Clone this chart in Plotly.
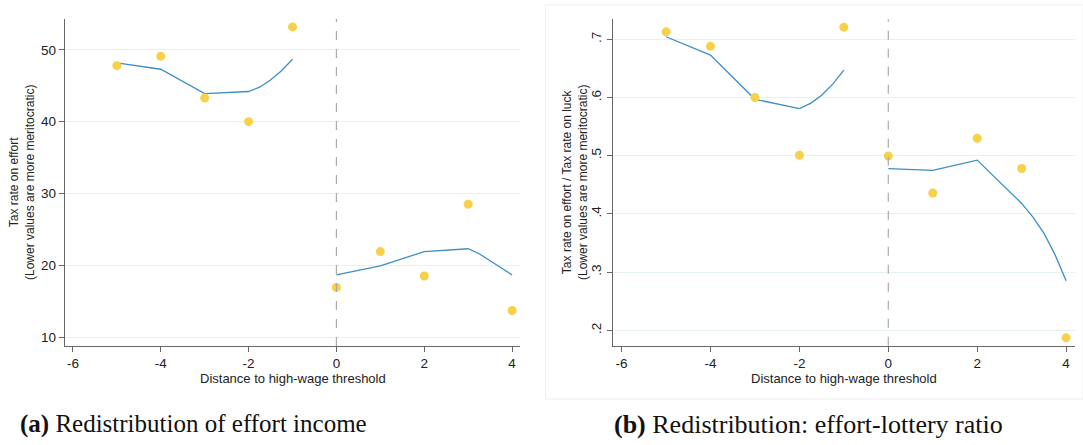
import plotly.graph_objects as go

W, H = 1083, 445

# ---- data ----
x_pts = [-5, -4, -3, -2, -1, 0, 1, 2, 3, 4]
effort_pts = [47.8, 49.1, 43.3, 40.0, 53.2, 16.9, 21.9, 18.5, 28.5, 13.7]
ratio_pts = [0.713, 0.688, 0.600, 0.501, 0.721, 0.4995, 0.436, 0.530, 0.478, 0.187]

fit_x_left = [-5, -4, -3, -2, -1.75, -1.5, -1.25, -1]
fit_x_right = [0, 1, 2, 3, 3.25, 3.5, 3.75, 4]
effort_fit_left = [48.2, 47.3, 43.9, 44.2, 44.8, 45.8, 47.1, 48.7]
effort_fit_right = [18.65, 19.9, 21.9, 22.3, 21.6, 20.6, 19.6, 18.65]
ratio_fit_left = [0.7045, 0.673, 0.597, 0.581, 0.590, 0.604, 0.623, 0.647]
ratio_fit_right = [0.478, 0.475, 0.4925, 0.418, 0.395, 0.367, 0.330, 0.285]

x_ticks = [-6, -4, -2, 0, 2, 4]
x_ticklabels = ["-6", "-4", "-2", "0", "2", "4"]
effort_ticks = [10, 20, 30, 40, 50]
ratio_ticks = [0.2, 0.3, 0.4, 0.5, 0.6, 0.7]
ratio_ticklabels = [".2", ".3", ".4", ".5", ".6", ".7"]

caption_a = "<b>(a)</b> Redistribution of effort income"
caption_b = "<b>(b)</b> Redistribution: effort-lottery ratio"
xtitle = "Distance to high-wage threshold"
ytitle_a = "Tax rate on effort<br>(Lower values are more meritocratic)"
ytitle_b = "Tax rate on effort / Tax rate on luck<br>(Lower values are more meritocratic)"

DOT = "#F8D14A"
LINE = "#3D8EC3"
FONT = "Liberation Sans, Arial, sans-serif"
SERIF = "Liberation Serif, DejaVu Serif, serif"

def px(x):
    return x / W

def py(y):
    return 1 - y / H

fig = go.Figure()

# left panel
fig.add_trace(go.Scatter(x=fit_x_left, y=effort_fit_left, mode="lines",
                         line=dict(color=LINE, width=1.3), xaxis="x", yaxis="y", showlegend=False))
fig.add_trace(go.Scatter(x=fit_x_right, y=effort_fit_right, mode="lines",
                         line=dict(color=LINE, width=1.3), xaxis="x", yaxis="y", showlegend=False))
fig.add_trace(go.Scatter(x=x_pts, y=effort_pts, mode="markers",
                         marker=dict(color=DOT, size=9), xaxis="x", yaxis="y", showlegend=False))
# right panel
fig.add_trace(go.Scatter(x=fit_x_left, y=ratio_fit_left, mode="lines",
                         line=dict(color=LINE, width=1.3), xaxis="x2", yaxis="y2", showlegend=False))
fig.add_trace(go.Scatter(x=fit_x_right, y=ratio_fit_right, mode="lines",
                         line=dict(color=LINE, width=1.3), xaxis="x2", yaxis="y2", showlegend=False))
fig.add_trace(go.Scatter(x=x_pts, y=ratio_pts, mode="markers",
                         marker=dict(color=DOT, size=9), xaxis="x2", yaxis="y2", showlegend=False))

axis_common = dict(showline=True, linecolor="#666666", linewidth=1.3, ticks="outside",
                   ticklen=5, tickcolor="#666666", tickfont=dict(family=FONT, size=13.5, color="#222"),
                   zeroline=False)

fig.update_layout(
    width=W, height=H, margin=dict(l=0, r=0, t=0, b=0),
    paper_bgcolor="white", plot_bgcolor="white",
    xaxis=dict(domain=[px(65), px(520)], range=[-6.18, 4.18], tickvals=x_ticks, ticktext=x_ticklabels,
               showgrid=False, anchor="y", **axis_common),
    yaxis=dict(domain=[py(346), py(19)], range=[8.75, 54.3], tickvals=effort_ticks,
               showgrid=True, gridcolor="#eeeeee", gridwidth=1, anchor="x", **axis_common),
    xaxis2=dict(domain=[px(612.7), px(1075)], range=[-6.2, 4.2], tickvals=x_ticks, ticktext=x_ticklabels,
                showgrid=False, anchor="y2", **axis_common),
    yaxis2=dict(domain=[py(345.7), py(19.3)], range=[0.1735, 0.7345], tickvals=ratio_ticks,
                ticktext=ratio_ticklabels, tickangle=-90,
                showgrid=True, gridcolor="#e8f1f2", gridwidth=1, anchor="x2", **axis_common),
    shapes=[
        dict(type="line", xref="x", yref="paper", x0=0, x1=0, y0=py(346), y1=py(19),
             line=dict(color="#aaaaaa", width=1.2, dash="dash")),
        dict(type="line", xref="x2", yref="paper", x0=0, x1=0, y0=py(345.7), y1=py(19.3),
             line=dict(color="#aaaaaa", width=1.2, dash="dash")),
        dict(type="rect", xref="paper", yref="paper", x0=px(545.5), x1=px(1083), y0=py(399), y1=py(5),
             line=dict(color="#f0f0f0", width=1), layer="below"),
    ],
    annotations=[
        dict(text=xtitle, xref="paper", yref="paper", x=px(293), y=py(378), showarrow=False,
             font=dict(family=FONT, size=13, color="#222"), xanchor="center", yanchor="middle"),
        dict(text=xtitle, xref="paper", yref="paper", x=px(843.5), y=py(378), showarrow=False,
             font=dict(family=FONT, size=13, color="#222"), xanchor="center", yanchor="middle"),
        dict(text=ytitle_a, xref="paper", yref="paper", x=px(22), y=py(183), showarrow=False,
             textangle=-90, font=dict(family=FONT, size=12, color="#222"), xanchor="center", yanchor="middle"),
        dict(text=ytitle_b, xref="paper", yref="paper", x=px(575), y=py(183), showarrow=False,
             textangle=-90, font=dict(family=FONT, size=12, color="#222"), xanchor="center", yanchor="middle"),
        dict(text=caption_a, xref="paper", yref="paper", x=px(193), y=py(424), showarrow=False,
             font=dict(family=SERIF, size=25, color="#111"),
             xanchor="center", yanchor="middle"),
        dict(text=caption_b, xref="paper", yref="paper", x=px(808), y=py(424), showarrow=False,
             font=dict(family=SERIF, size=26, color="#111"),
             xanchor="center", yanchor="middle"),
    ],
)

fig.write_html("out.html", config={"displayModeBar": False},
               post_script="document.body.style.margin='0';document.body.style.overflow='hidden';")
